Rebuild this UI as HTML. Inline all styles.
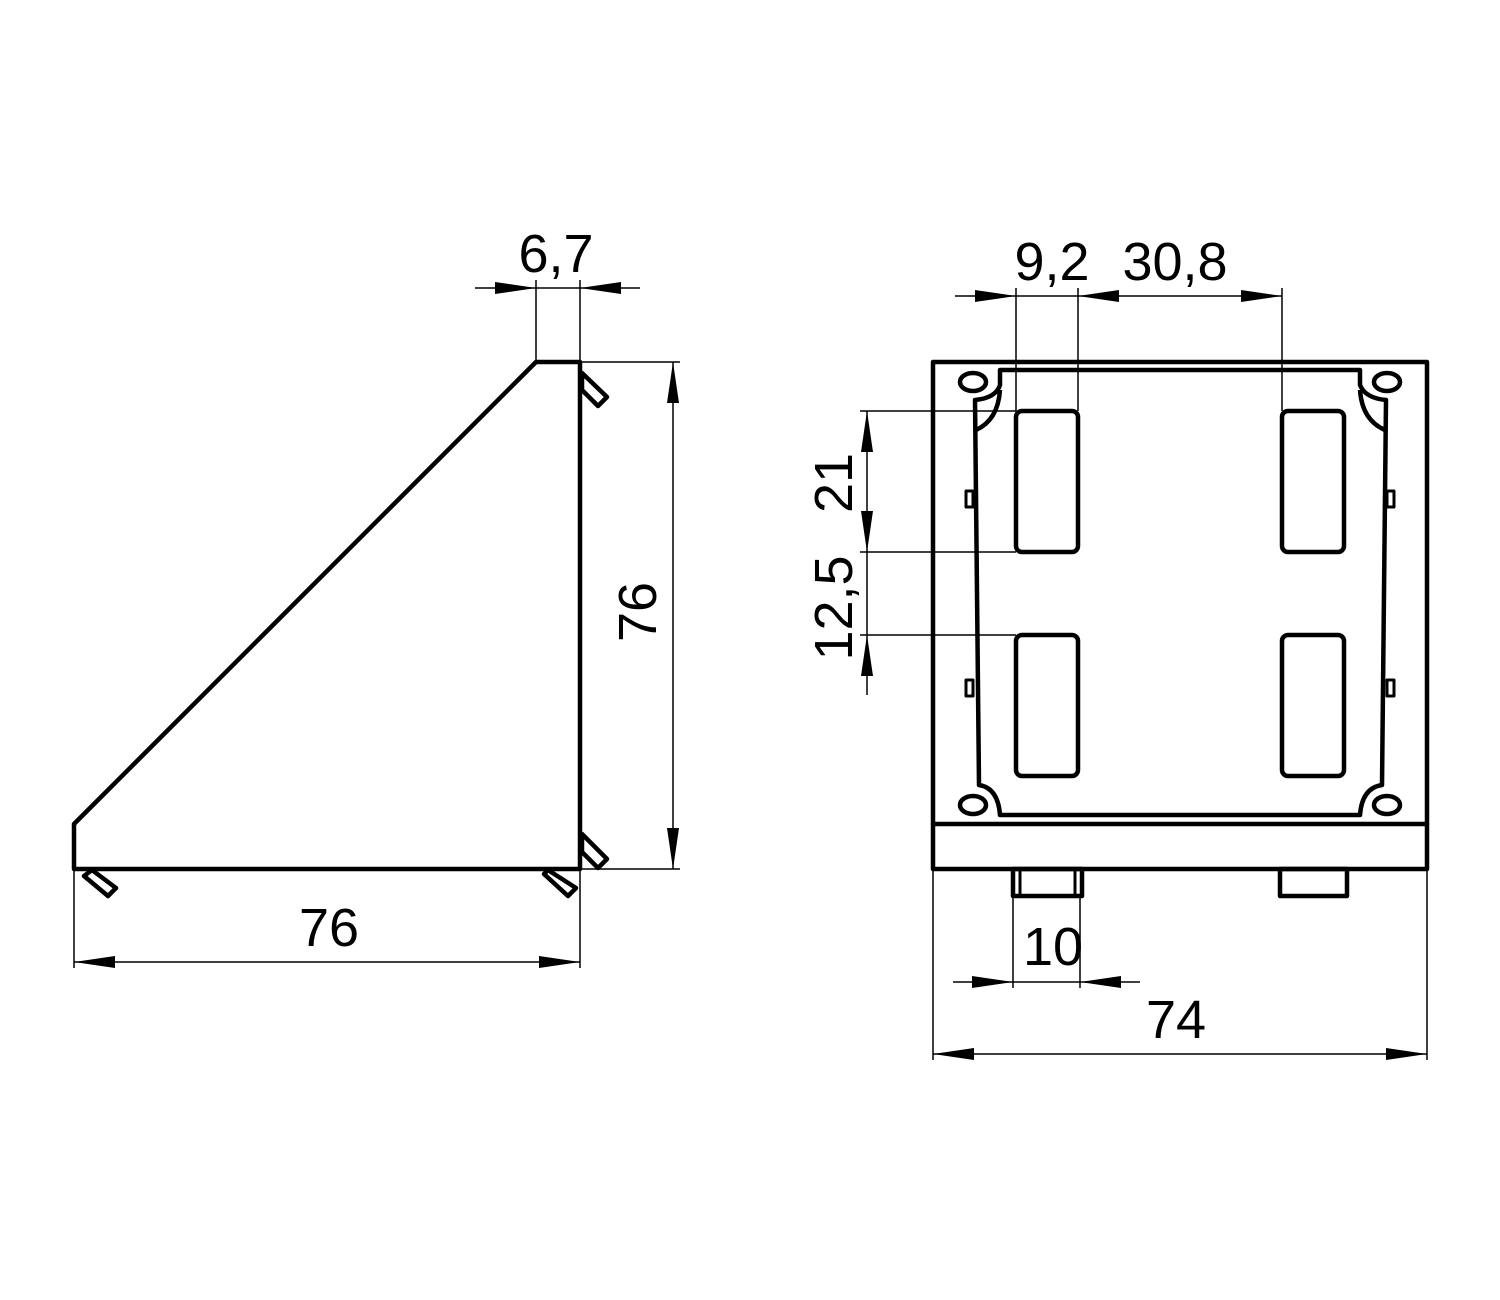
<!DOCTYPE html>
<html><head><meta charset="utf-8"><style>html,body{margin:0;padding:0;background:#fff}svg{display:block}</style></head>
<body>
<svg width="1500" height="1300" viewBox="0 0 1500 1300" xmlns="http://www.w3.org/2000/svg" font-family="Liberation Sans, DejaVu Sans, sans-serif" font-size="54">
<rect width="1500" height="1300" fill="#fff"/>
<g fill="none" stroke="#000" stroke-width="4.5" stroke-linejoin="round">
  <polygon points="74,824 536,362 580,362 580,869 74,869"/>
  <polygon points="582,373 607,397 598,406 582,390"/>
  <polygon points="582,834 607,859 598,868 582,852"/>
  <polygon points="92,870 116,888 108,896 84,876"/>
  <polygon points="548,870 576,888 568,896 544,874"/>
  <rect x="933" y="362" width="494" height="507"/>
  <line x1="933" y1="824" x2="1427" y2="824"/>
  <path d="M1000,370 L1360,370 L1360,385 Q1365,398 1386,400 L1382,785 Q1362,788 1360,815 L1000,815 Q998,788 979,785 L975,400 Q996,398 1000,385 Z"/>
  <path d="M1000,390 Q998,420 976,430"/>
  <path d="M1360,390 Q1362,420 1385,430"/>
  <ellipse cx="973" cy="382" rx="13" ry="9"/>
  <ellipse cx="1387" cy="382" rx="13" ry="9"/>
  <ellipse cx="973" cy="805" rx="13" ry="9"/>
  <ellipse cx="1387" cy="805" rx="13" ry="9"/>
  <rect x="1016" y="411" width="62" height="141" rx="6"/>
  <rect x="1282" y="411" width="62" height="141" rx="6"/>
  <rect x="1016" y="635" width="62" height="141" rx="6"/>
  <rect x="1282" y="635" width="62" height="141" rx="6"/>
  <rect x="966" y="491" width="7" height="16" stroke-width="3"/>
  <rect x="966" y="680" width="7" height="16" stroke-width="3"/>
  <rect x="1387" y="491" width="7" height="16" stroke-width="3"/>
  <rect x="1387" y="680" width="7" height="16" stroke-width="3"/>
  <rect x="1013" y="869" width="69" height="27"/>
  <line x1="1020" y1="869" x2="1020" y2="896" stroke-width="3"/>
  <line x1="1075" y1="869" x2="1075" y2="896" stroke-width="3"/>
  <rect x="1280" y="869" width="67" height="27"/>
</g>
<g stroke="#000" stroke-width="1.5" fill="none">
  <line x1="536" y1="280" x2="536" y2="362"/><line x1="580" y1="280" x2="580" y2="362"/>
  <line x1="475" y1="288" x2="640" y2="288"/>
  <line x1="580" y1="362" x2="680" y2="362"/><line x1="580" y1="869" x2="680" y2="869"/>
  <line x1="673" y1="362" x2="673" y2="869"/>
  <line x1="74" y1="869" x2="74" y2="968"/><line x1="580" y1="869" x2="580" y2="968"/>
  <line x1="74" y1="962" x2="580" y2="962"/>
  <line x1="1016" y1="288" x2="1016" y2="411"/><line x1="1078" y1="288" x2="1078" y2="411"/><line x1="1282" y1="288" x2="1282" y2="411"/>
  <line x1="955" y1="296" x2="1282" y2="296"/>
  <line x1="860" y1="411" x2="1016" y2="411"/><line x1="860" y1="552" x2="1016" y2="552"/><line x1="860" y1="635" x2="1016" y2="635"/>
  <line x1="867" y1="411" x2="867" y2="695"/>
  <line x1="1013" y1="896" x2="1013" y2="988"/><line x1="1080" y1="896" x2="1080" y2="988"/>
  <line x1="953" y1="982" x2="1140" y2="982"/>
  <line x1="933" y1="869" x2="933" y2="1060"/><line x1="1427" y1="869" x2="1427" y2="1060"/>
  <line x1="933" y1="1054" x2="1427" y2="1054"/>
</g>
<g fill="#000">
  <polygon points="536,288 495,282 495,294"/>
  <polygon points="580,288 621,282 621,294"/>
  <polygon points="673,362 667,403 679,403"/>
  <polygon points="673,869 667,828 679,828"/>
  <polygon points="74,962 115,956 115,968"/>
  <polygon points="580,962 539,956 539,968"/>
  <polygon points="1016,296 975,290 975,302"/>
  <polygon points="1078,296 1119,290 1119,302"/>
  <polygon points="1282,296 1241,290 1241,302"/>
  <polygon points="867,411 861,452 873,452"/>
  <polygon points="867,552 861,511 873,511"/>
  <polygon points="867,635 861,676 873,676"/>
  <polygon points="1013,982 972,976 972,988"/>
  <polygon points="1080,982 1121,976 1121,988"/>
  <polygon points="933,1054 974,1048 974,1060"/>
  <polygon points="1427,1054 1386,1048 1386,1060"/>
</g>
<g fill="#000" text-anchor="middle">
  <text x="556" y="272">6,7</text>
  <text x="329" y="946">76</text>
  <text x="0" y="0" transform="translate(656,612) rotate(-90)">76</text>
  <text x="1052" y="280">9,2</text>
  <text x="1175" y="280">30,8</text>
  <text x="0" y="0" transform="translate(852,483) rotate(-90)">21</text>
  <text x="0" y="0" transform="translate(852,608) rotate(-90)">12,5</text>
  <text x="1053" y="965">10</text>
  <text x="1176" y="1038">74</text>
</g>
</svg>
</body></html>
